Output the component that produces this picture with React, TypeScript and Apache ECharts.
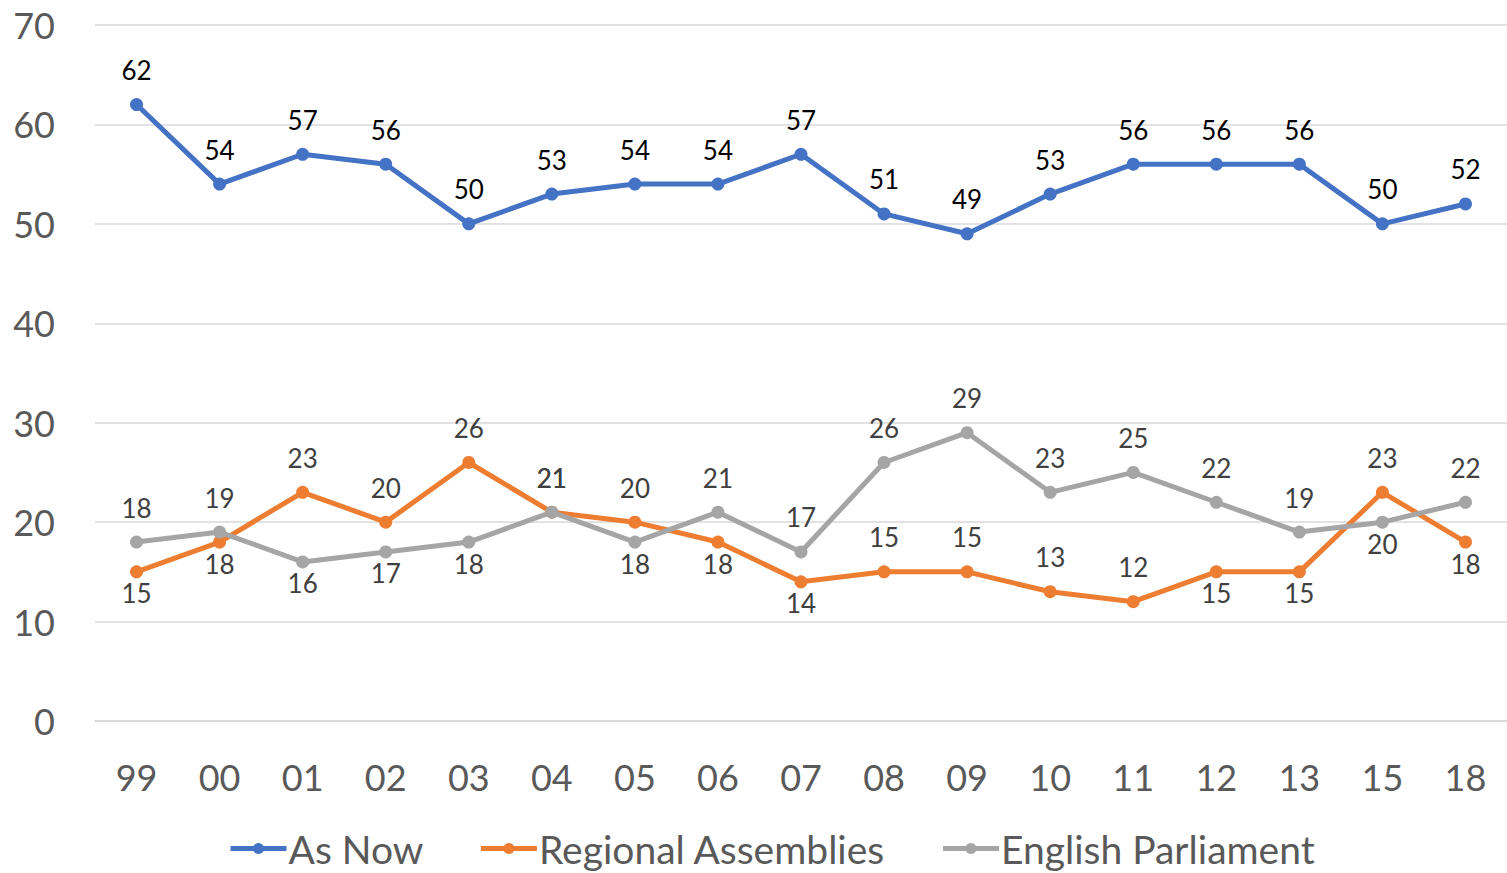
import React, { useEffect, useRef } from "react";
import * as echarts from "echarts";

const categories = ["99", "00", "01", "02", "03", "04", "05", "06", "07", "08", "09", "10", "11", "12", "13", "15", "18"];
const asNow = [62, 54, 57, 56, 50, 53, 54, 54, 57, 51, 49, 53, 56, 56, 56, 50, 52];
const regional = [15, 18, 23, 20, 26, 21, 20, 18, 14, 15, 15, 13, 12, 15, 15, 23, 18];
const english = [18, 19, 16, 17, 18, 21, 18, 21, 17, 26, 29, 23, 25, 22, 19, 20, 22];

// label placement (t = above, b = below)
const regionalPos = ["b", "b", "t", "t", "t", "t", "t", "b", "b", "t", "t", "t", "t", "b", "b", "t", "b"];
const englishPos = ["t", "t", "b", "b", "b", "t", "b", "t", "t", "t", "t", "t", "t", "t", "t", "b", "t"];

const FONT = "Lato, 'Open Sans', sans-serif";

function items(values: number[], pos: string[]) {
  return values.map((v, i) => ({
    value: v,
    label: pos[i] === "t" ? { position: "top", distance: 15 } : { position: "bottom", distance: 2 },
  }));
}

export default function App() {
  const ref = useRef<HTMLDivElement>(null);
  useEffect(() => {
    document.body.style.margin = "0";
    const chart = echarts.init(ref.current!, null, { renderer: "svg" });
    const seriesBase = {
      type: "line",
      symbol: "circle",
      symbolSize: 13,
      lineStyle: { width: 5 },
      label: { show: true, fontFamily: FONT, fontSize: 26, color: "#404040" },
    };
    chart.setOption({
      animation: false,
      color: ["#4472C4", "#ED7D31", "#A5A5A5"],
      grid: { left: 95, right: -3, top: 25, bottom: 152 },
      xAxis: {
        type: "category",
        data: categories,
        boundaryGap: true,
        axisLine: { show: true, lineStyle: { color: "#D9D9D9", width: 1.5 } },
        axisTick: { show: false },
        axisLabel: { fontFamily: FONT, fontSize: 36, color: "#595959", margin: 38 },
      },
      yAxis: {
        type: "value",
        min: 0,
        max: 70,
        interval: 10,
        axisLine: { show: false },
        axisTick: { show: false },
        splitLine: { lineStyle: { color: "#D9D9D9", width: 1.5 } },
        axisLabel: { fontFamily: FONT, fontSize: 36, color: "#595959", margin: 40 },
      },
      legend: {
        bottom: 0,
        left: 223,
        itemWidth: 56,
        itemHeight: 14,
        itemGap: 55,
        lineStyle: { width: 5 },
        textStyle: { fontFamily: FONT, fontSize: 39, color: "#595959", padding: [0, 0, 0, -3] },
        data: ["As Now", "Regional Assemblies", "English Parliament"],
      },
      series: [
        {
          ...seriesBase,
          name: "As Now",
          data: asNow,
          label: { ...seriesBase.label, color: "#000000", position: "top", distance: 15 },
        },
        { ...seriesBase, name: "Regional Assemblies", data: items(regional, regionalPos) },
        { ...seriesBase, name: "English Parliament", data: items(english, englishPos) },
      ],
    });
    return () => chart.dispose();
  }, []);
  return <div ref={ref} style={{ width: 1507, height: 873 }} />;
}
